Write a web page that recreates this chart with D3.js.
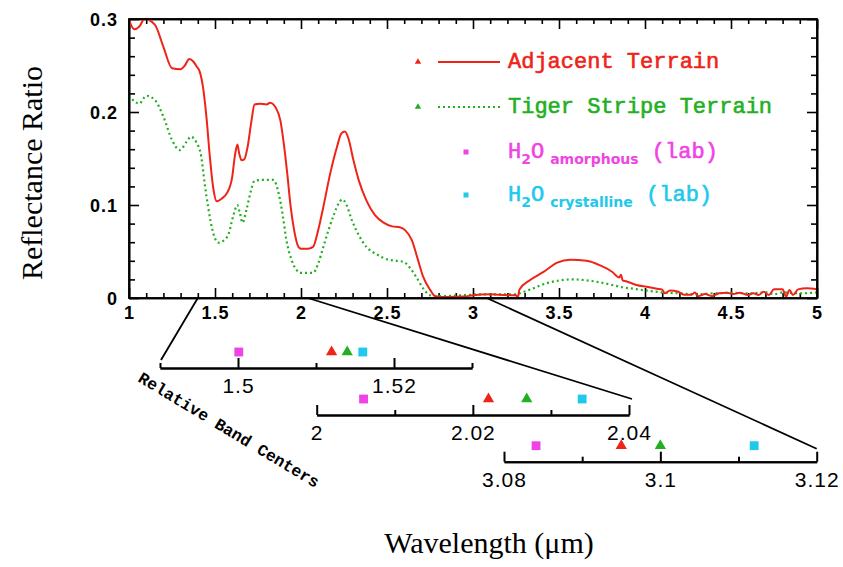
<!DOCTYPE html>
<html>
<head>
<meta charset="utf-8">
<title>Relative Band Centers</title>
<style>
  body { margin: 0; background: #fff; }
  .axis text { font-family: "Liberation Sans", Arial, sans-serif; font-weight: bold; font-size: 18px; fill: #000; letter-spacing: 1px; }
  .axis path, .axis line { stroke: #000; stroke-width: 1.6; fill: none; }
  .sub text { font-family: "Liberation Sans", Arial, sans-serif; font-size: 21px; fill: #000; letter-spacing: 1px; }
  .sub path, .sub line { stroke: #000; stroke-width: 2; fill: none; }
  .legend text { font-family: "Liberation Mono", "DejaVu Sans Mono", monospace; font-size: 22px; stroke-width: 0.6; }
  .legend .subscript { font-family: "DejaVu Sans", sans-serif; font-weight: bold; font-size: 14px; stroke-width: 0; }
</style>
<script src="https://d3js.org/d3.v7.min.js"></script>
</head>
<body>
<svg width="843" height="567"></svg>
<script>
// spectra: [wavelength (um), reflectance ratio]
var adjacentSpectrum = [[1.00,0.299],[1.03,0.289],[1.06,0.292],[1.09,0.300],[1.15,0.294],[1.20,0.270],[1.25,0.247],[1.30,0.246],[1.325,0.250],[1.35,0.257],[1.375,0.254],[1.393,0.249],[1.41,0.244],[1.43,0.227],[1.45,0.195],[1.47,0.152],[1.49,0.118],[1.51,0.104],[1.54,0.107],[1.57,0.113],[1.60,0.130],[1.615,0.152],[1.63,0.165],[1.64,0.156],[1.655,0.148],[1.67,0.149],[1.69,0.163],[1.71,0.188],[1.73,0.208],[1.76,0.209],[1.80,0.208],[1.82,0.210],[1.855,0.204],[1.88,0.191],[1.90,0.166],[1.92,0.134],[1.94,0.098],[1.96,0.073],[1.985,0.055],[2.00,0.053],[2.04,0.053],[2.07,0.055],[2.10,0.073],[2.13,0.098],[2.17,0.134],[2.21,0.163],[2.235,0.177],[2.255,0.179],[2.275,0.172],[2.305,0.148],[2.335,0.127],[2.38,0.105],[2.43,0.089],[2.48,0.081],[2.53,0.077],[2.575,0.076],[2.605,0.073],[2.645,0.062],[2.68,0.041],[2.71,0.023],[2.75,0.009],[2.78,0.002],[2.85,0.001],[2.95,0.0015],[3.00,0.003],[3.10,0.004],[3.20,0.003],[3.25,0.003],[3.26,0.000],[3.27,0.009],[3.33,0.019],[3.41,0.028],[3.49,0.038],[3.565,0.041],[3.66,0.040],[3.74,0.035],[3.81,0.028],[3.85,0.022],[3.86,0.025],[3.87,0.019],[3.89,0.018],[3.95,0.014],[4.01,0.012],[4.07,0.010],[4.10,0.009],[4.115,0.005],[4.145,0.008],[4.19,0.007],[4.23,0.0035],[4.27,0.0035],[4.29,0.006],[4.31,0.002],[4.35,0.0043],[4.39,0.002],[4.43,0.005],[4.475,0.0057],[4.515,0.0043],[4.55,0.0057],[4.60,0.0032],[4.63,0.005],[4.66,0.0032],[4.69,0.0068],[4.72,0.0032],[4.75,0.0093],[4.80,0.0093],[4.82,0.0014],[4.84,0.0086],[4.86,0.0032],[4.89,0.0093],[4.94,0.0104],[5.00,0.0093]];

var tigerSpectrum = [[1.00,0.218],[1.035,0.211],[1.06,0.209],[1.10,0.2175],[1.15,0.213],[1.20,0.195],[1.25,0.170],[1.295,0.159],[1.335,0.168],[1.36,0.1735],[1.39,0.168],[1.42,0.152],[1.44,0.123],[1.46,0.098],[1.49,0.0695],[1.52,0.0595],[1.55,0.0617],[1.58,0.0695],[1.605,0.0875],[1.63,0.100],[1.645,0.091],[1.66,0.081],[1.685,0.0965],[1.71,0.116],[1.73,0.126],[1.78,0.127],[1.84,0.127],[1.87,0.1125],[1.895,0.0875],[1.915,0.0624],[1.945,0.041],[1.975,0.030],[1.995,0.027],[2.07,0.027],[2.10,0.037],[2.13,0.055],[2.16,0.073],[2.19,0.089],[2.22,0.102],[2.24,0.106],[2.265,0.100],[2.295,0.084],[2.335,0.068],[2.38,0.055],[2.44,0.047],[2.50,0.0416],[2.555,0.040],[2.595,0.039],[2.635,0.032],[2.675,0.021],[2.71,0.0104],[2.75,0.003],[2.80,0.002],[2.95,0.003],[3.05,0.004],[3.15,0.004],[3.25,0.004],[3.27,0.005],[3.33,0.009],[3.43,0.016],[3.505,0.019],[3.58,0.020],[3.70,0.018],[3.81,0.014],[3.855,0.012],[3.93,0.010],[4.01,0.008],[4.10,0.006],[4.20,0.005],[4.30,0.004],[4.40,0.005],[4.50,0.0055],[4.60,0.005],[4.70,0.006],[4.75,0.004],[4.80,0.006],[4.90,0.005],[5.00,0.006]];

var xMajorTicks = [1, 1.5, 2, 2.5, 3, 3.5, 4, 4.5, 5];
var yMajorTicks = [0, 0.1, 0.2, 0.3];

// relative band centers (zoomed sub-axes)
var bandRanges = [[1.49, 1.53], [2.00, 2.04], [3.08, 3.12]];
var bandMajorTicks = [[1.50, 1.52], [2.00, 2.02, 2.04], [3.08, 3.10, 3.12]];
var bandMinorTicks = [[1.49, 1.51, 1.53], [2.01, 2.03], [3.09, 3.11]];
var amorphousCenters = [1.5001, 2.0060, 3.0841];
var adjacentCenters = [1.5120, 2.0220, 3.0950];
var tigerCenters = [1.5140, 2.0269, 3.1000];
var crystallineCenters = [1.5160, 2.0340, 3.1120];
var connectorFrom = [1.40, 2.04, 3.08];

var red = "#ee2418", green = "#22b022", magenta = "#ee44e4", cyan = "#20c8ec";

var svg = d3.select("svg"),
    plot = {left: 129, top: 19, right: 817, bottom: 298};

var x = d3.scaleLinear().domain([1, 5]).range([plot.left, plot.right]),
    y = d3.scaleLinear().domain([0, 0.3]).range([plot.bottom, plot.top]);

// minor ticks
var xMinor = d3.range(10, 51).map(d => d / 10).filter(d => xMajorTicks.indexOf(d) === -1),
    yMinor = d3.range(0, 16).map(d => d / 50).filter(d => yMajorTicks.indexOf(+d.toFixed(2)) === -1);

function addAxis(axis, transform, labels) {
  var g = svg.append("g").attr("class", "axis").attr("transform", transform).call(axis);
  if (!labels) g.selectAll("text").remove();
  return g;
}

// bottom
var bx = addAxis(d3.axisBottom(x).tickValues(xMajorTicks).tickSize(-10).tickSizeOuter(0).tickFormat(d3.format("~g")),
  `translate(0,${plot.bottom})`, true);
bx.selectAll("text").attr("y", 21).attr("dy", 0);
addAxis(d3.axisBottom(x).tickValues(xMinor).tickSize(-5).tickSizeOuter(0), `translate(0,${plot.bottom})`, false);
// top
addAxis(d3.axisTop(x).tickValues(xMajorTicks).tickSize(-10).tickSizeOuter(0), `translate(0,${plot.top})`, false);
addAxis(d3.axisTop(x).tickValues(xMinor).tickSize(-5).tickSizeOuter(0), `translate(0,${plot.top})`, false);
// left
var ly = addAxis(d3.axisLeft(y).tickValues(yMajorTicks).tickSize(-10).tickSizeOuter(0).tickFormat(d => d === 0 ? "0" : d.toFixed(1)),
  `translate(${plot.left},0)`, true);
ly.selectAll("text").attr("x", -11).attr("dy", "0.36em");
addAxis(d3.axisLeft(y).tickValues(yMinor).tickSize(-6).tickSizeOuter(0), `translate(${plot.left},0)`, false);
// right
addAxis(d3.axisRight(y).tickValues(yMajorTicks).tickSize(-10).tickSizeOuter(0), `translate(${plot.right},0)`, false);
addAxis(d3.axisRight(y).tickValues(yMinor).tickSize(-6).tickSizeOuter(0), `translate(${plot.right},0)`, false);

svg.append("defs").append("clipPath").attr("id", "clip")
  .append("rect").attr("x", plot.left).attr("y", plot.top - 2)
  .attr("width", plot.right - plot.left).attr("height", plot.bottom - plot.top + 2);

var line = d3.line().x(d => x(d[0])).y(d => y(d[1])).curve(d3.curveMonotoneX);

svg.append("path").datum(tigerSpectrum)
  .attr("clip-path", "url(#clip)")
  .attr("d", line).attr("fill", "none")
  .attr("stroke", green).attr("stroke-width", 2.2).attr("stroke-dasharray", "2,3");
svg.append("path").datum(adjacentSpectrum)
  .attr("clip-path", "url(#clip)")
  .attr("d", line).attr("fill", "none")
  .attr("stroke", red).attr("stroke-width", 2);

// frame
svg.append("rect").attr("x", plot.left).attr("y", plot.top)
  .attr("width", plot.right - plot.left).attr("height", plot.bottom - plot.top)
  .attr("fill", "none").attr("stroke", "#000").attr("stroke-width", 1.8);

// axis titles
svg.append("text").text("Reflectance Ratio")
  .attr("transform", "translate(42,173) rotate(-90)")
  .attr("text-anchor", "middle")
  .style("font", "30px 'Liberation Serif', 'Times New Roman', serif");
svg.append("text").text("Wavelength (\u03bcm)")
  .attr("x", 489).attr("y", 553)
  .attr("text-anchor", "middle")
  .style("font", "30px 'Liberation Serif', 'Times New Roman', serif");

// legend
var legendRows = [
  {y: 62, color: red, symbol: d3.symbolTriangle, dash: null, parts: [["Adjacent Terrain", false]]},
  {y: 107, color: green, symbol: d3.symbolTriangle, dash: "2,3", parts: [["Tiger Stripe Terrain", false]]},
  {y: 152, color: magenta, symbol: d3.symbolSquare, parts: [["H", false], ["2", true], ["O", false], ["amorphous", true], [" (lab)", false]]},
  {y: 195, color: cyan, symbol: d3.symbolSquare, parts: [["H", false], ["2", true], ["O", false], ["crystalline", true], [" (lab)", false]]}
];
var legend = svg.append("g").attr("class", "legend");
legendRows.forEach(function(r) {
  var sq = r.symbol === d3.symbolSquare;
  legend.append("path")
    .attr("d", d3.symbol().type(r.symbol).size(sq ? 25 : 18)())
    .attr("transform", `translate(${sq ? 466 : 418},${r.y})`)
    .attr("fill", r.color);
  if (!sq) {
    legend.append("line").attr("x1", 438).attr("x2", 500).attr("y1", r.y).attr("y2", r.y)
      .attr("stroke", r.color).attr("stroke-width", 2)
      .attr("stroke-dasharray", r.dash);
  }
  var t = legend.append("text").attr("x", 508).attr("y", r.y + 6)
    .attr("fill", r.color).attr("stroke", r.color);
  var shifted = false;
  r.parts.forEach(function(p) {
    var ts = t.append("tspan").text(p[0]);
    if (p[1]) {
      ts.attr("class", "subscript").attr("dy", shifted ? 0 : 6);
      if (p[0] !== "2") ts.attr("dx", 6);
      shifted = true;
    } else if (shifted) {
      ts.attr("dy", -6);
      shifted = false;
    }
  });
});

// relative band center sub-axes
var subLayout = [
  {x0: 160, x1: 472, y: 368, endAt: 0, endDx: 1, endDy: -8},
  {x0: 316.7, x1: 629, y: 415, endAt: 1, endDx: 3, endDy: -16},
  {x0: 504, x1: 816.7, y: 461.7, endAt: 1, endDx: 0, endDy: -13}
];
var markerSets = [
  {centers: amorphousCenters, color: magenta, symbol: d3.symbolSquare, size: 78},
  {centers: adjacentCenters, color: red, symbol: d3.symbolTriangle, size: 55},
  {centers: tigerCenters, color: green, symbol: d3.symbolTriangle, size: 55},
  {centers: crystallineCenters, color: cyan, symbol: d3.symbolSquare, size: 78}
];

bandRanges.forEach(function(range, i) {
  var L = subLayout[i];
  var sx = d3.scaleLinear().domain(range).range([L.x0, L.x1]);
  var g = svg.append("g").attr("class", "sub").attr("transform", `translate(0,${L.y})`);
  g.call(d3.axisBottom(sx).tickValues(bandMajorTicks[i]).tickSize(-10).tickSizeOuter(0)
    .tickFormat(d => String(+d.toFixed(2))));
  g.selectAll("text").attr("y", 25).attr("dy", 0);
  var gm = svg.append("g").attr("class", "sub").attr("transform", `translate(0,${L.y})`);
  gm.call(d3.axisBottom(sx).tickValues(bandMinorTicks[i]).tickSize(-5).tickSizeOuter(0).tickFormat(""));

  markerSets.forEach(function(m) {
    svg.append("path")
      .attr("d", d3.symbol().type(m.symbol).size(m.size)())
      .attr("transform", `translate(${sx(m.centers[i])},${L.y - 16})`)
      .attr("fill", m.color);
  });

  // connector from main wavelength axis to the magnified scale
  svg.append("line")
    .attr("x1", x(connectorFrom[i])).attr("y1", plot.bottom)
    .attr("x2", sx(range[L.endAt]) + L.endDx).attr("y2", L.y + L.endDy)
    .attr("stroke", "#000").attr("stroke-width", 1.8);
});

svg.append("text").text("Relative Band Centers")
  .attr("transform", "translate(137,381) rotate(31)")
  .style("font", "bold 16.5px 'Liberation Mono', 'DejaVu Sans Mono', monospace");
</script>
</body>
</html>
